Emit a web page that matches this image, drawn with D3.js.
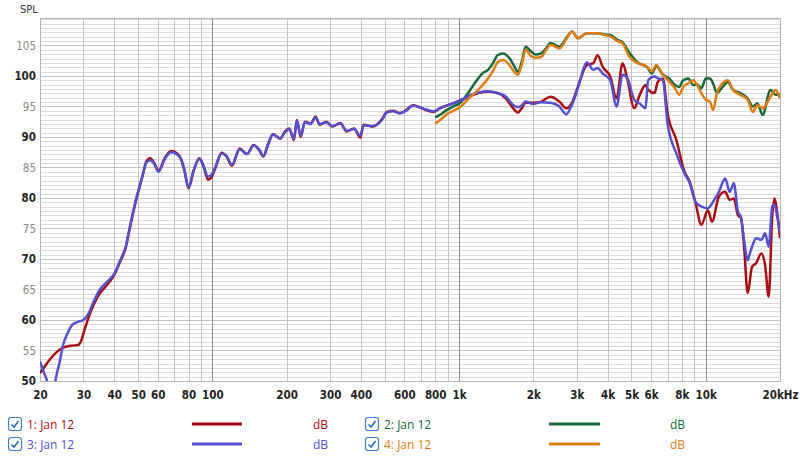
<!DOCTYPE html>
<html><head><meta charset="utf-8">
<script src="https://cdn.jsdelivr.net/npm/d3@7/dist/d3.min.js"></script>
<style>
body{margin:0;background:#fff;}
svg{display:block;}
</style></head>
<body>
<svg id="c" width="800" height="456"></svg>
<script>
// ---------- data ----------
const xTickVals = [20,30,40,50,60,80,100,200,300,400,600,800,1000,2000,3000,4000,5000,6000,8000,10000,20000];
const xTickLabels = ["20","30","40","50","60","80","100","200","300","400","600","800","1k","2k","3k","4k","5k","6k","8k","10k","20kHz"];
const yTickVals = [50,55,60,65,70,75,80,85,90,95,100,105];

const legendNames = ["1: Jan 12","2: Jan 12","3: Jan 12","4: Jan 12"];
const seriesColors = ["#a80c10","#16683a","#5450d0","#e07c12"];

const freq1 = [20,21,22,23,25,27,28.5,29.5,30,31.4,33,35,37.5,40,42.3,44.5,46,49,52,54,56,58,60.5,64,68,73.8,77,80,84,88.5,92,96,100,103,109,114,120,129,138,147,155,161,168,176,188,197,205,214,220,228,237,250,262,272,290,306,330,350,375,398,410,445,485,510,540,575,610,650,690,735,790,835,945,1010,1100,1200,1310,1430,1550,1650,1730,1800,1860,2000,2150,2350,2550,2720,2870,3030,3300,3500,3640,3820,4100,4350,4600,4820,5130,5400,5700,5840,6200,6400,6700,7000,7600,8200,8600,9100,9600,10200,10600,11300,12000,12500,13000,13500,13900,14300,14800,15400,16000,16800,17400,18000,18600,19000,19500,20000];
const db1 = [51.3,52.5,53.6,54.5,55.5,55.8,55.9,56.8,57.8,60.3,62.5,64.4,65.8,67.4,69.6,71.8,74.6,79.6,83.5,86,86.5,85.8,84.5,86.5,87.7,86.8,84.5,81.6,84.5,86.5,85.2,83,83.7,85,87.4,86.8,85.3,88.1,87.2,88.7,87.8,86.8,88.8,90.5,89.7,90.9,91.4,89.5,92.8,90,92.5,92.2,93.3,92,92.5,91.7,92.3,90.9,91.4,89.9,92,91.7,92.8,94.1,94.3,93.9,94.4,95.2,94.9,94.4,94.1,94.7,95.5,96,96.6,97.2,97.4,97.2,96.3,94.8,94,94.8,95.6,95.6,95.8,96.6,95.8,94.7,95.6,98.2,101.8,102.1,103.4,101.5,99.9,96.3,102.1,99.3,94.7,96.9,98.5,97.7,97.2,99.1,99.6,93.9,89.5,84.3,82.7,79.1,75.6,78,76.1,80.2,81,79.7,79.9,77.2,76.7,72,64.4,68.7,69.3,70.9,69,63.8,76.9,79.9,77.5,73.4];

const freq3 = [20,20.7,21.5,22,22.6,23.2,24,24.7,26,27,28.5,30,31.4,33,35,37.5,40,42.3,44.5,46,49,52,54,56,58,60.5,64,68,73.8,77,80,84,88.5,92,96,100,103,109,114,120,129,138,147,155,161,168,176,188,197,205,214,220,228,237,250,262,272,290,306,330,350,375,398,410,445,485,510,540,575,610,650,690,735,790,835,945,1010,1100,1200,1310,1430,1550,1650,1730,1800,1860,2000,2150,2350,2550,2720,2870,3030,3300,3500,3640,3820,4100,4350,4600,4820,5130,5400,5700,5840,6200,6400,6700,7000,7600,8200,8600,9100,9600,10200,10600,11300,12000,12500,13000,13500,13900,14300,14800,15000,15400,16000,16800,17400,18000,18600,19000,19500,20000];
const db3 = [53.2,51.5,49.5,47,47.5,50.5,53,55.6,58,59.2,59.7,60,61,63,65,66.3,67.6,69.8,72,74.8,79.7,83.5,85.8,86.2,85.6,84.3,86.3,87.5,86.7,84.6,81.7,84.6,86.4,85.3,83.5,84,85.2,87.3,86.9,85.5,88,87.2,88.6,87.9,86.9,88.7,90.4,89.8,90.8,91.3,89.7,92.6,90.2,92.4,92.1,93.2,92.1,92.4,91.8,92.2,91,91.3,90.2,91.9,91.8,92.7,94,94.2,93.9,94.3,95.1,94.9,94.5,94.2,94.7,95.5,96,96.8,97.3,97.5,97.2,96.6,95.3,94.9,95.2,95.8,95.4,95.7,95.6,95,93.7,95.3,98,102.2,101,101.3,100.4,99.3,95,100.2,99.6,96.1,95.5,94.7,99.3,99.9,99.6,99.3,92.2,87.3,84,82.5,79.3,78.6,78.3,79.1,81,83.2,81,82.4,77.8,76.8,73.1,69.8,70.5,72,73.4,73.1,74.2,72,78.6,78.9,76.9,74.5];

const freq2 = [800,850,890,950,1010,1100,1180,1250,1310,1380,1430,1510,1600,1680,1730,1800,1860,1960,2050,2150,2250,2350,2550,2720,2870,3030,3300,3640,3900,4100,4350,4600,4900,5300,5800,6050,6300,6700,7100,7500,7800,8100,8500,8900,9200,9600,10000,10400,10700,11100,11700,12300,12900,13800,14800,15500,16200,17000,18300,19200,20000];
const db2 = [93.2,93.8,94.4,95,95.6,97.5,99.3,100.5,101,102.3,103.4,103.7,102.9,101.5,100.7,102.5,104.8,104,103.5,103.7,104.5,105.4,104.8,106.2,107.3,106.2,107,107,106.8,106.7,106,105.5,103.8,102.2,101.4,100.4,101.6,100.2,99.6,98.5,98.2,99.3,99.6,98.5,98.6,98,99.6,99.6,98.8,97.2,98.2,99,97.7,97.2,96.3,95,95.5,93.6,97.7,96.9,97];

const freq4 = [800,850,890,950,1010,1100,1200,1310,1380,1430,1510,1600,1680,1730,1800,1860,1960,2050,2150,2250,2350,2550,2720,2870,3030,3300,3640,3900,4100,4350,4600,4900,5300,5800,6050,6300,6700,7100,7500,7800,8100,8500,8900,9200,9600,10000,10400,10700,11100,11700,12300,12900,13800,14800,15500,16200,17000,18300,19200,20000];
const db4 = [92.2,93,93.7,94.3,94.9,96.4,97.8,99.6,101,102.2,102.6,101.8,100.6,100.2,102,104.3,103.2,103,103.1,104.2,105.1,104.5,106,107.3,106.2,107,107,106.7,106.5,105.8,105.3,103.2,102.1,101.5,100.7,101.8,100.2,99.1,98,96.9,98.2,98.8,99.3,98.6,97.2,96.1,95.8,94.4,97.2,98.8,99.3,97.7,96.9,96.1,94.1,95.2,94.7,96.6,97.7,96.3];

// ---------- layout ----------
const svg = d3.select("#c");
const L = 40, R = 780, T = 18, B = 381;
const x = d3.scaleLog().domain([20,20000]).range([L,R]);
const y = d3.scaleLinear().domain([50,109.5]).range([B,T]);

// horizontal grid
const g = svg.append("g");
const minorY = d3.range(50, 109.5, 5/7);
g.selectAll("line.hm").data(minorY).enter().append("line")
  .attr("x1",L).attr("x2",R).attr("y1",d=>Math.round(y(d))+0.5).attr("y2",d=>Math.round(y(d))+0.5)
  .attr("stroke","#dcdcdc").attr("stroke-width",1);
g.selectAll("line.hM").data(yTickVals).enter().append("line")
  .attr("x1",L).attr("x2",R).attr("y1",d=>Math.round(y(d))+0.5).attr("y2",d=>Math.round(y(d))+0.5)
  .attr("stroke","#c4c4c4").attr("stroke-width",1);

// vertical grid
const vLines = [];
[10,100,1000,10000].forEach(dec=>{ for(let k=1;k<10;k++){ const f=dec*k; if(f>20 && f<20000) vLines.push(f);} });
g.selectAll("line.v").data(vLines).enter().append("line")
  .attr("y1",T).attr("y2",B).attr("x1",d=>Math.round(x(d))+0.5).attr("x2",d=>Math.round(x(d))+0.5)
  .attr("stroke",d=>([100,1000,10000].includes(d)?"#8c8c8c":"#c4c4c4")).attr("stroke-width",1);

// border
svg.append("rect").attr("x",L+0.5).attr("y",T+0.5).attr("width",R-L).attr("height",B-T)
  .attr("fill","none").attr("stroke","#b4b4b4");

// axis labels
const yAxis = d3.axisLeft(y).tickValues(yTickVals).tickSize(0).tickPadding(4);
const ya = svg.append("g").attr("transform",`translate(${L},0)`).call(yAxis);
ya.select(".domain").remove();
ya.selectAll("text").attr("font-family","'DejaVu Sans Condensed','DejaVu Sans',sans-serif")
  .attr("font-size","11.5px")
  .attr("font-weight",d=>d%10===0?"bold":"normal")
  .attr("fill",d=>d%10===0?"#222":"#888");

const xAxis = d3.axisBottom(x).tickValues(xTickVals).tickFormat((d,i)=>xTickLabels[i]).tickSize(0).tickPadding(10);
const xa = svg.append("g").attr("transform",`translate(0,${B})`).call(xAxis);
xa.select(".domain").remove();
xa.selectAll("text").attr("font-family","'DejaVu Sans Condensed','DejaVu Sans',sans-serif")
  .attr("font-size","11.5px").attr("font-weight","bold").attr("fill","#222");

svg.append("text").attr("x",20).attr("y",13).text("SPL")
  .attr("font-family","'DejaVu Sans Condensed','DejaVu Sans',sans-serif").attr("font-size","11px").attr("fill","#333");

// curves
svg.append("clipPath").attr("id","clip").append("rect").attr("x",L).attr("y",T).attr("width",R-L).attr("height",B-T);
const line = d3.line().x(d=>x(d[0])).y(d=>y(d[1])).curve(d3.curveMonotoneX);
const series = [[freq1,db1],[freq2,db2],[freq3,db3],[freq4,db4]];
const order = [0,1,2,3];
const cg = svg.append("g").attr("clip-path","url(#clip)");
order.forEach(i=>{
  const [f,v] = series[i];
  cg.append("path").datum(f.map((d,j)=>[d,v[j]])).attr("d",line)
    .attr("fill","none").attr("stroke",seriesColors[i]).attr("stroke-width",2.5).attr("stroke-linejoin","round");
});

// legend
const leg = [
  {i:0,cx:8,ty:424},{i:1,cx:365,ty:424},{i:2,cx:8,ty:444},{i:3,cx:365,ty:444}
];
const lineOff = {8:[192,242,313],365:[549,600,670]};
leg.forEach(o=>{
  const gg = svg.append("g");
  gg.append("rect").attr("x",o.cx+0.5).attr("y",o.ty-6.5).attr("width",13).attr("height",13).attr("rx",2.5)
    .attr("fill","#fff").attr("stroke","#3c7fd0").attr("stroke-width",1.2);
  gg.append("path").attr("d",`M${o.cx+3.5},${o.ty+0.5} L${o.cx+6},${o.ty+3} L${o.cx+10.5},${o.ty-3}`)
    .attr("fill","none").attr("stroke","#2a6cc4").attr("stroke-width",1.6);
  gg.append("text").attr("x",o.cx+19).attr("y",o.ty+4.5).text(legendNames[o.i])
    .attr("font-family","'Open Sans','Noto Sans',sans-serif").attr("font-size","12px").attr("fill",seriesColors[o.i]);
  const lo = lineOff[o.cx];
  gg.append("line").attr("x1",lo[0]).attr("x2",lo[1]).attr("y1",o.ty).attr("y2",o.ty)
    .attr("stroke",seriesColors[o.i]).attr("stroke-width",3);
  gg.append("text").attr("x",lo[2]).attr("y",o.ty+4.5).text("dB")
    .attr("font-family","'Open Sans','Noto Sans',sans-serif").attr("font-size","12px").attr("fill",seriesColors[o.i]);
});
</script>
</body></html>
